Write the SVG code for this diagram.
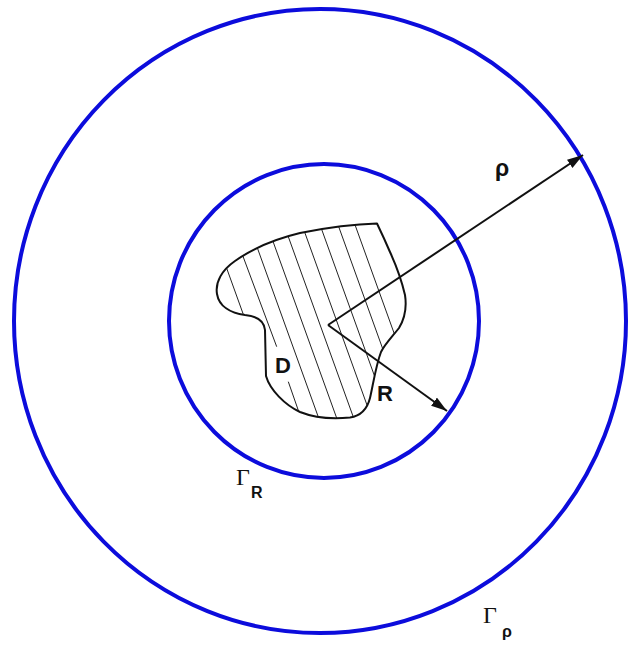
<svg xmlns="http://www.w3.org/2000/svg" width="628" height="645" viewBox="0 0 628 645">
  <style>
    .ring { fill: none; stroke: #0c0cdc; stroke-width: 4; }
    .outline { fill: none; stroke: #111; stroke-width: 2; stroke-linejoin: round; }
    .hatch { stroke: #222; stroke-width: 1; }
    .arrow { stroke: #111; stroke-width: 2; fill: none; }
    .lbl { font-family: "Liberation Sans", Arial, sans-serif; font-weight: bold; fill: #111; }
    .gam { font-family: "Liberation Serif", "Times New Roman", serif; fill: #111; }
  </style>
  <defs>
    <marker id="ah" markerUnits="userSpaceOnUse" markerWidth="18" markerHeight="12" refX="16" refY="5" orient="auto">
      <path d="M0,0 L16,5 L0,10 Z" fill="#111"/>
    </marker>
    <clipPath id="clipD">
      <path d="M377,223.5 C383,236 387,245 390,252 C395,263 402,282 405,295 C407,308 405,318 399,328 C392,337 385,344 381,352 C376,365 373,385 370,398 C367,410 360,416 350,417.5 C335,419 315,418 300,412 C285,405 270,390 266,376 L265,330 C264,320 256,316 245,315 C230,313 219,306 217,294 C215,282 222,270 235,261 C252,249 275,239 300,233 C325,228 355,224 377,223.5 Z"/>
    </clipPath>
  </defs>
  <rect width="628" height="645" fill="#fff"/>

  <g id="outer-circle">
    <ellipse class="ring" cx="320" cy="321" rx="306" ry="312"/>
    <text class="gam" x="483" y="623" font-size="24">Γ</text>
    <text class="lbl" x="502" y="637" font-size="16">ρ</text>
  </g>

  <g id="inner-circle">
    <ellipse class="ring" cx="324" cy="321" rx="155" ry="157"/>
    <text class="gam" x="236" y="485" font-size="24">Γ</text>
    <text class="lbl" x="251" y="498" font-size="16">R</text>
  </g>

  <g id="domain-D">
    <g clip-path="url(#clipD)" class="hatch">
      <line x1="204.6" y1="207" x2="290.4" y2="445"/>
      <line x1="224.6" y1="207" x2="276.7" y2="346.7"/>
      <line x1="288.3" y1="381.7" x2="310.4" y2="445"/>
      <line x1="242.6" y1="207" x2="328.4" y2="445"/>
      <line x1="260.6" y1="207" x2="346.4" y2="445"/>
      <line x1="277.6" y1="207" x2="363.4" y2="445"/>
      <line x1="295.6" y1="207" x2="381.4" y2="445"/>
      <line x1="313.6" y1="207" x2="399.4" y2="445"/>
      <line x1="331.6" y1="207" x2="417.4" y2="445"/>
      <line x1="348.6" y1="207" x2="434.4" y2="445"/>
    </g>
    <path class="outline" d="M377,223.5 C383,236 387,245 390,252 C395,263 402,282 405,295 C407,308 405,318 399,328 C392,337 385,344 381,352 C376,365 373,385 370,398 C367,410 360,416 350,417.5 C335,419 315,418 300,412 C285,405 270,390 266,376 L265,330 C264,320 256,316 245,315 C230,313 219,306 217,294 C215,282 222,270 235,261 C252,249 275,239 300,233 C325,228 355,224 377,223.5 Z"/>
    <text class="lbl" x="275" y="373" font-size="22">D</text>
  </g>

  <g id="connectors">
    <line class="arrow" x1="328" y1="325" x2="583" y2="155" marker-end="url(#ah)"/>
    <line class="arrow" x1="328" y1="325" x2="447" y2="411" marker-end="url(#ah)"/>
  </g>

  <g id="labels">
    <text class="lbl" x="495" y="176" font-size="23">ρ</text>
    <text class="lbl" x="377" y="401" font-size="22">R</text>
  </g>
</svg>
